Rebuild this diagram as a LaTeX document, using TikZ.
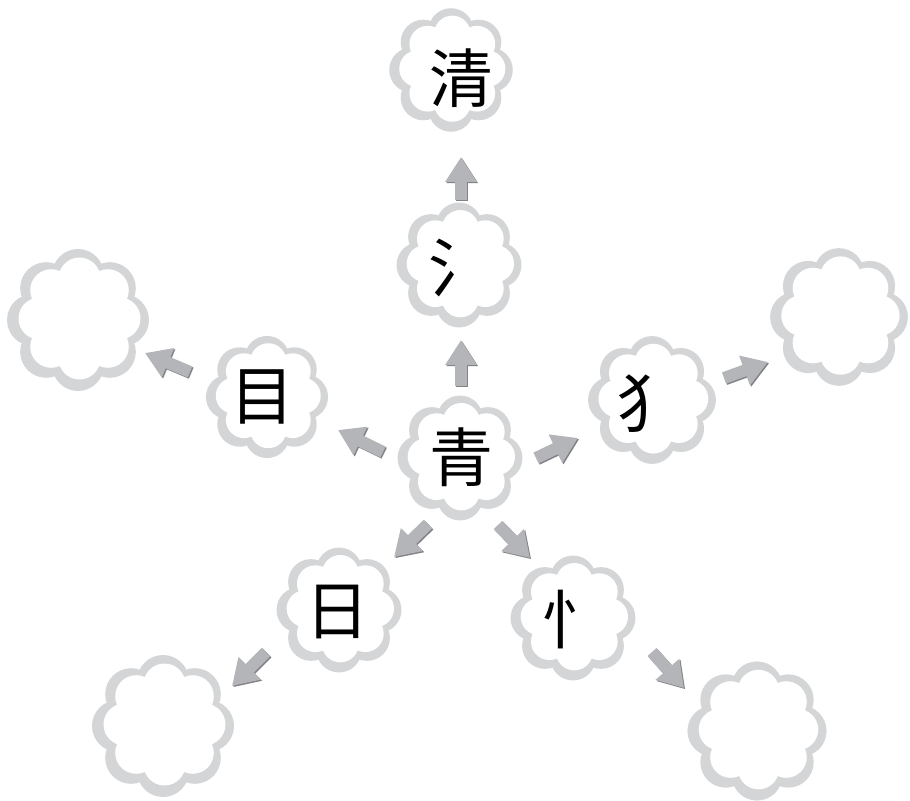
\documentclass[tikz,border=0pt]{standalone}
\usepackage{fontspec}
\newfontfamily\cjk{Noto Sans CJK SC}
\usetikzlibrary{arrows.meta,calc}
\definecolor{cloudgray}{RGB}{212,213,215}
\definecolor{arrowfill}{RGB}{180,181,184}
\definecolor{arrowdark}{RGB}{130,131,134}
\newcommand\cloudat[3]{%
  \begin{scope}[shift={(#1,#2)}, scale=#3]
    \fill[cloudgray] (0,0) circle (50) foreach \a in {0,45,...,315} { (\a:45) circle (26) };
    \fill[white] (1.5,-1.5) circle (45) foreach \a in {0,45,...,315} { ($(1.5,-1.5)+(\a:40)$) circle (21) };
  \end{scope}}
\tikzset{
  glyph/.style={font=\cjk\fontsize{32}{32}\selectfont, inner sep=0pt},
  barrow/.style={line width=6pt, arrowfill, -{Triangle[length=12.5pt, width=15pt]}},
  barrowshadow/.style={line width=6pt, arrowdark, -{Triangle[length=12.5pt, width=15pt]}},
}
\newcommand\blockarrow[2]{%
  \draw[barrowshadow, transform canvas={shift={(0.6pt,-0.6pt)}}] (#1) -- (#2);
  \draw[barrow] (#1) -- (#2);}
\begin{document}
\begin{tikzpicture}[x=0.5pt, y=-0.5pt]
\useasboundingbox (0,0) rectangle (910,801);
% clouds
\cloudat{451}{70}{0.87}
\cloudat{459}{265}{0.88}
\cloudat{460}{458}{0.88}
\cloudat{267}{397}{0.86}
\cloudat{652}{400}{0.9}
\cloudat{339}{610}{0.88}
\cloudat{573}{618}{0.88}
\cloudat{78}{320}{1}
\cloudat{839}{317}{0.97}
\cloudat{163}{726}{1}
\cloudat{757}{731}{0.98}
% labels
\node[glyph] (qing2) at (461,78) {清};
\node[glyph] (shui) at (460,268) {氵};
\node[glyph] (qing) at (461,457) {青};
\node[glyph] (mu) at (262,397) {目};
\node[glyph] (quan) at (648,404) {犭};
\node[glyph] (ri) at (337,612) {日};
\node[glyph] (xin) at (573,620) {忄};
% arrow end points
\coordinate (a1s) at (461,200); \coordinate (a1e) at (461,157);
\coordinate (a2s) at (461,386); \coordinate (a2e) at (461,340);
\coordinate (a3s) at (383,452); \coordinate (a3e) at (338,430);
\coordinate (a4s) at (190,372); \coordinate (a4e) at (145,353);
\coordinate (a5s) at (536,458); \coordinate (a5e) at (578,438);
\coordinate (a6s) at (724,378); \coordinate (a6e) at (768,362);
\coordinate (a7s) at (428,524); \coordinate (a7e) at (394,557);
\coordinate (a8s) at (266,652); \coordinate (a8e) at (232,686);
\coordinate (a9s) at (498,525); \coordinate (a9e) at (530,558);
\coordinate (a10s) at (652,652); \coordinate (a10e) at (684,688);
\blockarrow{a1s}{a1e}
\blockarrow{a2s}{a2e}
\blockarrow{a3s}{a3e}
\blockarrow{a4s}{a4e}
\blockarrow{a5s}{a5e}
\blockarrow{a6s}{a6e}
\blockarrow{a7s}{a7e}
\blockarrow{a8s}{a8e}
\blockarrow{a9s}{a9e}
\blockarrow{a10s}{a10e}
\end{tikzpicture}
\end{document}
